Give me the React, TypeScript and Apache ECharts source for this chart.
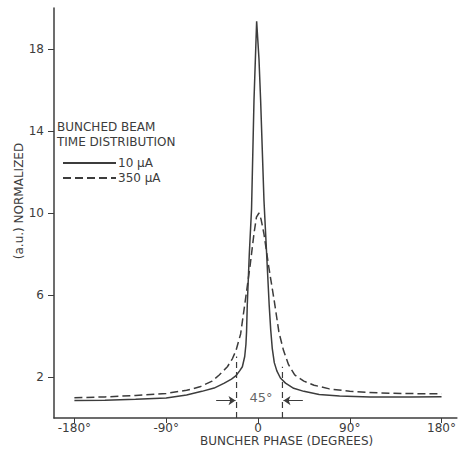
import React, { useEffect, useRef } from "react";
import * as echarts from "echarts";

// 10 µA (solid) — buncher phase in degrees, normalized intensity
const phase10 = [-180, -150, -120, -90, -70, -55, -43, -33, -26, -21.8, -18, -15.3, -13, -11.8, -11.2, -10.5, -8.5, -6.3, -3.9, -1.3, 1, 2.6, 5.9, 7.5, 9.5, 11, 12.5, 14, 16, 18.5, 22, 27, 35, 45, 60, 80, 110, 150, 180];
const value10 = [0.85, 0.87, 0.92, 0.98, 1.12, 1.3, 1.46, 1.7, 1.9, 2.05, 2.3, 2.5, 3.0, 3.6, 4.2, 5.5, 8.0, 10.2, 15.5, 19.35, 17.5, 15.5, 10.6, 9.0, 7.0, 5.5, 4.3, 3.4, 2.7, 2.3, 1.95, 1.7, 1.45, 1.3, 1.15, 1.07, 1.02, 1.02, 1.04];

// 350 µA (dashed)
const phase350 = [-180, -150, -120, -90, -70, -57, -45, -38, -30, -25, -21.5, -17, -12.5, -7.8, -3.9, -1.5, 1, 3, 5.8, 10.5, 16, 20.5, 25, 30, 36, 45, 55, 70, 90, 120, 150, 180];
const value350 = [0.99, 1.03, 1.1, 1.2, 1.35, 1.52, 1.8, 2.1, 2.5, 2.9, 3.3, 4.1, 5.7, 7.4, 9.0, 9.8, 10.0, 9.7, 9.0, 7.4, 5.7, 4.2, 3.3, 2.6, 2.1, 1.8, 1.6, 1.42, 1.3, 1.22, 1.19, 1.18];

const xTicks = [-180, -90, 0, 90, 180];
const yTicks = [2, 6, 10, 14, 18];
const seriesNames = ["10 μA", "350 μA"];

// 45° bunch width annotation
const widthLeft = -21;
const widthRight = 24;
const widthLabel = "45°";

const INK = "#3c3c3c";
const FONT = "DejaVu Sans";

export default function App() {
  const ref = useRef<HTMLDivElement>(null);
  useEffect(() => {
    if (!ref.current) return;
    const chart = echarts.init(ref.current, undefined, { renderer: "svg" });
    const pairs = (xs: number[], ys: number[]) => xs.map((x, i) => [x, ys[i]]);
    const arrowY = 0.85;
    chart.setOption({
      animation: false,
      backgroundColor: "#ffffff",
      textStyle: { fontFamily: FONT, color: INK },
      grid: { left: 54, top: 8, right: 0, bottom: 31 },
      title: {
        text: "BUNCHED BEAM\nTIME DISTRIBUTION",
        left: 57,
        top: 119,
        padding: 0,
        textStyle: { fontFamily: FONT, fontSize: 12, fontWeight: "normal", color: INK, lineHeight: 15 },
      },
      legend: {
        data: seriesNames,
        orient: "vertical",
        left: 62,
        top: 157,
        padding: 0,
        itemWidth: 53,
        itemHeight: 14,
        itemGap: 3,
        itemStyle: { opacity: 0 },
        textStyle: { fontFamily: FONT, fontSize: 12, color: INK, padding: [0, 0, 0, -3] },
      },
      graphic: [
        {
          type: "text",
          left: 200,
          top: 435,
          style: { text: "BUNCHER PHASE (DEGREES)", font: `12px '${FONT}'`, fill: INK },
        },
        {
          type: "text",
          x: 19,
          y: 201,
          rotation: Math.PI / 2,
          style: { text: "(a.u.) NORMALIZED", font: `12px '${FONT}'`, fill: INK, align: "center", verticalAlign: "middle" },
        },
      ],
      xAxis: {
        type: "value",
        min: -200,
        max: 195,
        axisLine: { show: true, onZero: false, lineStyle: { color: INK, width: 1.5 } },
        axisTick: { show: true, customValues: xTicks, length: 5, lineStyle: { color: INK } },
        axisLabel: {
          customValues: xTicks,
          margin: 4,
          fontSize: 12,
          fontFamily: FONT,
          color: INK,
          formatter: (v: number) => (v === 0 ? "0" : `${v}°`),
        },
        splitLine: { show: false },
      },
      yAxis: {
        type: "value",
        min: 0,
        max: 20,
        axisLine: { show: true, onZero: false, lineStyle: { color: INK, width: 1.5 } },
        axisTick: { show: true, customValues: yTicks, length: 6, lineStyle: { color: INK } },
        axisLabel: { customValues: yTicks, margin: 10, fontSize: 12, fontFamily: FONT, color: INK },
        splitLine: { show: false },
      },
      series: [
        {
          name: seriesNames[0],
          type: "line",
          data: pairs(phase10, value10),
          symbol: "none",
          lineStyle: { color: INK, width: 1.5 },
          itemStyle: { color: INK },
        },
        {
          name: seriesNames[1],
          type: "line",
          data: pairs(phase350, value350),
          symbol: "none",
          lineStyle: { color: INK, width: 1.5, type: [8, 4] },
          itemStyle: { color: INK },
        },
        {
          name: "left bound",
          type: "line",
          data: [[widthLeft, 0], [widthLeft, 3.0]],
          symbol: "none",
          lineStyle: { color: INK, width: 1.2, type: [6, 4] },
          markLine: {
            silent: true,
            symbol: ["none", "arrow"],
            symbolSize: 7,
            label: { show: false },
            lineStyle: { color: INK, width: 1, type: "solid" },
            data: [
              [{ coord: [widthLeft - 20, arrowY] }, { coord: [widthLeft - 1, arrowY] }],
              [{ coord: [widthRight + 20, arrowY] }, { coord: [widthRight + 1, arrowY] }],
            ],
          },
        },
        {
          name: "right bound",
          type: "line",
          data: [[widthRight, 0], [widthRight, 2.5]],
          symbol: "none",
          lineStyle: { color: INK, width: 1.2, type: [6, 4] },
        },
        {
          name: "width label",
          type: "scatter",
          data: [[3, 0.98]],
          symbolSize: 0,
          itemStyle: { color: INK },
          label: {
            show: true,
            position: "inside",
            formatter: widthLabel,
            fontSize: 13,
            fontFamily: FONT,
            color: INK,
            textBorderWidth: 0,
          },
        },
      ],
    });
    return () => chart.dispose();
  }, []);
  return <div ref={ref} style={{ position: "fixed", left: 0, top: 0, width: 459, height: 449 }} />;
}
